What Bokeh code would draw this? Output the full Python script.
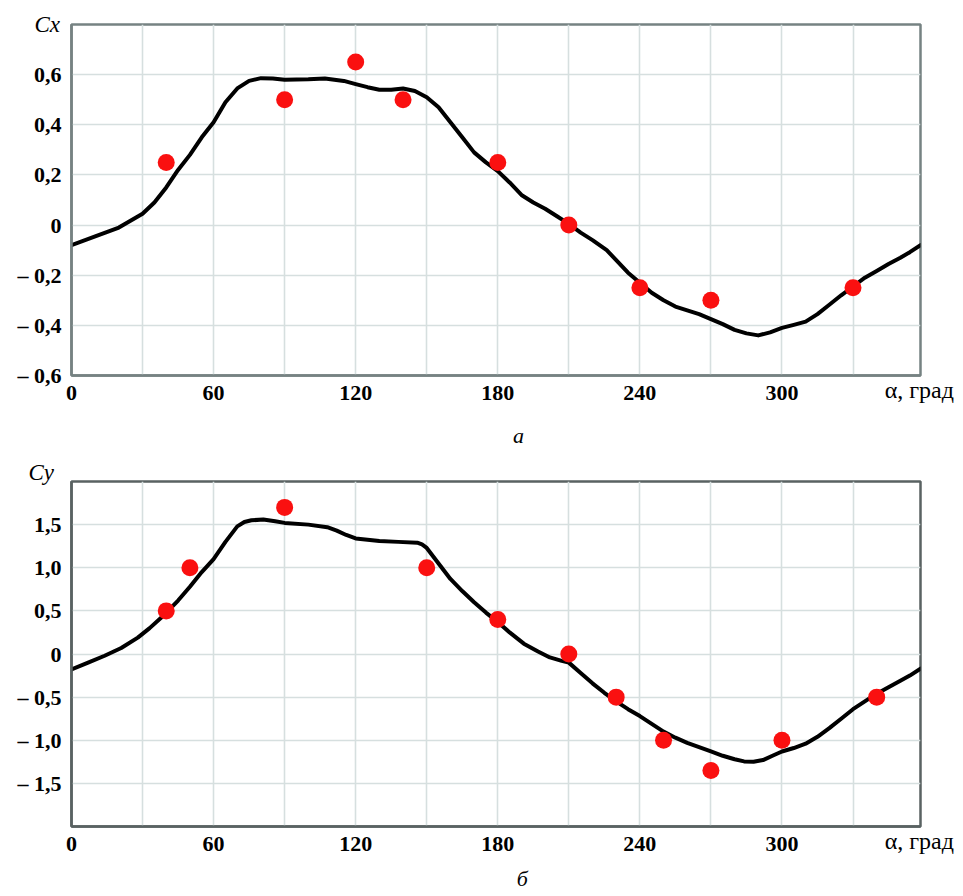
from bokeh.plotting import figure
from bokeh.models import Range1d, FixedTicker, LinearAxis, Title
from bokeh.layouts import column
from bokeh.embed import file_html
from bokeh.resources import INLINE

# ---- data -------------------------------------------------------------
cx_curve_alpha = [0, 10, 20, 30, 35, 40, 45, 50, 55, 60, 65, 70, 75, 80, 85, 90,
                  100, 107, 115, 120, 125, 130, 135, 140, 145, 150, 155, 160, 165,
                  170, 175, 180, 185, 190, 195, 200, 205, 210, 215, 220, 226, 230,
                  235, 240, 245, 250, 255, 260, 265, 270, 275, 280, 285, 290, 295,
                  300, 305, 310, 315, 320, 325, 330, 335, 340, 345, 350, 354, 358.5]
cx_curve = [-0.08, -0.045, -0.01, 0.045, 0.09, 0.15, 0.22, 0.28, 0.35, 0.41, 0.49,
            0.545, 0.575, 0.586, 0.585, 0.58, 0.582, 0.585, 0.575, 0.562, 0.55,
            0.54, 0.54, 0.545, 0.535, 0.51, 0.47, 0.41, 0.35, 0.29, 0.25, 0.215,
            0.17, 0.12, 0.09, 0.065, 0.035, 0.005, -0.03, -0.06, -0.1, -0.14,
            -0.19, -0.23, -0.27, -0.3, -0.325, -0.34, -0.355, -0.375, -0.395,
            -0.418, -0.432, -0.44, -0.428, -0.41, -0.398, -0.385, -0.355, -0.318,
            -0.28, -0.245, -0.21, -0.183, -0.155, -0.13, -0.108, -0.08]
cx_pts_alpha = [40, 90, 120, 140, 180, 210, 240, 270, 330]
cx_pts = [0.25, 0.5, 0.65, 0.5, 0.25, 0.0, -0.25, -0.3, -0.25]

cy_curve_alpha = [0, 7, 14, 21, 28, 33, 39, 45, 50, 55, 60, 65, 70, 73, 76, 81, 86,
                  90, 100, 108, 112, 116, 120, 130, 138, 146, 148, 150, 155, 160,
                  165, 170, 175, 180, 185, 191, 197, 202, 207, 210, 215, 220, 225,
                  230, 235, 240, 245, 250, 255, 260, 265, 270, 275, 280, 284, 288,
                  292, 296, 300, 305, 310, 315, 320, 325, 330, 335, 340, 345, 350,
                  354, 358.5]
cy_curve = [-0.18, -0.1, -0.02, 0.07, 0.19, 0.3, 0.45, 0.62, 0.78, 0.95, 1.1, 1.3,
            1.48, 1.53, 1.55, 1.56, 1.54, 1.52, 1.5, 1.47, 1.43, 1.38, 1.34, 1.31,
            1.3, 1.29, 1.27, 1.23, 1.05, 0.87, 0.73, 0.6, 0.48, 0.37, 0.25, 0.12,
            0.03, -0.04, -0.08, -0.1, -0.22, -0.34, -0.45, -0.55, -0.64, -0.72,
            -0.81, -0.9, -0.97, -1.03, -1.08, -1.13, -1.18, -1.22, -1.245, -1.25,
            -1.23, -1.18, -1.13, -1.09, -1.04, -0.96, -0.86, -0.75, -0.64, -0.55,
            -0.46, -0.385, -0.31, -0.25, -0.17]
cy_pts_alpha = [40, 50, 90, 150, 180, 210, 230, 250, 270, 300, 340]
cy_pts = [0.5, 1.0, 1.7, 1.0, 0.4, 0.0, -0.5, -1.0, -1.35, -1.0, -0.5]

x_label_ticks = [0, 60, 120, 180, 240, 300]
x_label_texts = ["0", "60", "120", "180", "240", "300"]
x_grid_ticks = [30, 60, 90, 120, 150, 180, 210, 240, 270, 300, 330]
cx_ticks = [-0.6, -0.4, -0.2, 0, 0.2, 0.4, 0.6]
cx_tick_labels = ["– 0,6", "– 0,4", "– 0,2", "0", "0,2", "0,4", "0,6"]
cy_ticks = [-1.5, -1.0, -0.5, 0, 0.5, 1.0, 1.5]
cy_tick_labels = ["– 1,5", "– 1,0", "– 0,5", "0", "0,5", "1,0", "1,5"]
x_unit_pos = 358.0
x_unit_text = "α, град"

SERIF = "Liberation Serif"
GRID = "#d6dfdf"


def text_axis(tick, text, standoff, size, style):
    ax = LinearAxis(ticker=FixedTicker(ticks=[tick]),
                    major_label_overrides={tick: text})
    ax.axis_line_color = None
    ax.major_tick_line_color = None
    ax.minor_tick_line_color = None
    ax.major_tick_out = 0
    ax.major_tick_in = 0
    ax.minor_tick_out = 0
    ax.major_label_standoff = standoff
    ax.major_label_text_font = SERIF
    ax.major_label_text_font_style = style
    ax.major_label_text_font_size = size
    ax.major_label_text_color = "black"
    return ax


def make_fig(height, yr, yticks, ylabels, border, frame_color,
             curve_x, curve_y, px, py, ysym, sym_offset, sym_standoff,
             cap_text, cap_x, cap_standoff):
    p = figure(width=960, height=height, x_range=Range1d(0, 358.5),
               y_range=Range1d(*yr), output_backend="svg", toolbar_location=None,
               min_border_left=border[0], min_border_right=border[1],
               min_border_top=border[2], min_border_bottom=border[3])
    p.background_fill_color = "white"
    p.border_fill_color = "white"
    p.outline_line_color = frame_color
    p.outline_line_width = 2.5

    xa = p.xaxis[0]
    ya = p.yaxis[0]
    xa.ticker = FixedTicker(ticks=x_label_ticks)
    xa.major_label_overrides = dict(zip(x_label_ticks, x_label_texts))
    ya.ticker = FixedTicker(ticks=yticks)
    ya.major_label_overrides = dict(zip(yticks, ylabels))
    for ax in (xa, ya):
        ax.axis_line_color = frame_color
        ax.axis_line_width = 2.5
        ax.major_tick_line_color = None
        ax.minor_tick_line_color = None
        ax.major_tick_out = 0
        ax.major_tick_in = 0
        ax.minor_tick_out = 0
        ax.major_label_text_font = SERIF
        ax.major_label_text_font_style = "bold"
        ax.major_label_text_font_size = "22px"
        ax.major_label_text_color = "black"
        ax.major_label_standoff = 10

    p.xgrid.ticker = FixedTicker(ticks=x_grid_ticks)
    p.ygrid.ticker = FixedTicker(ticks=yticks)
    p.xgrid.grid_line_color = GRID
    p.ygrid.grid_line_color = GRID
    p.xgrid.grid_line_width = 1.6
    p.ygrid.grid_line_width = 1.6

    p.line(curve_x, curve_y, line_color="black", line_width=4,
           line_join="round", line_cap="round")
    p.scatter(px, py, size=17, fill_color="#fa1010", line_color=None)

    # unit label on the tick-label line, then the panel caption
    p.add_layout(text_axis(x_unit_pos, x_unit_text, -26, "24px", "normal"), "below")
    p.add_layout(text_axis(cap_x, cap_text, cap_standoff, "22px", "italic"), "below")

    # C_x / C_y symbol at the top of the vertical axis
    t = Title(text="C" + ysym, align="left", offset=sym_offset,
              standoff=sym_standoff, vertical_align="bottom",
              text_font=SERIF, text_font_style="italic",
              text_font_size="23px", text_color="black")
    p.add_layout(t, "above")
    return p


p1 = make_fig(456, (-0.6, 0.8), cx_ticks, cx_tick_labels, (71, 40, 24, 81),
              "#768282", cx_curve_alpha, cx_curve, cx_pts_alpha, cx_pts, "x",
              -37, -24, "а", 188.8, 17)
p2 = make_fig(440, (-2.0, 2.0), cy_ticks, cy_tick_labels, (67, 40, 25, 70),
              "#596262", cy_curve_alpha, cy_curve, cy_pts_alpha, cy_pts, "y",
              -43, -6, "б", 190.3, 9)

layout = column(p1, p2, spacing=0)
open("out.html", "w").write(file_html(layout, INLINE))
